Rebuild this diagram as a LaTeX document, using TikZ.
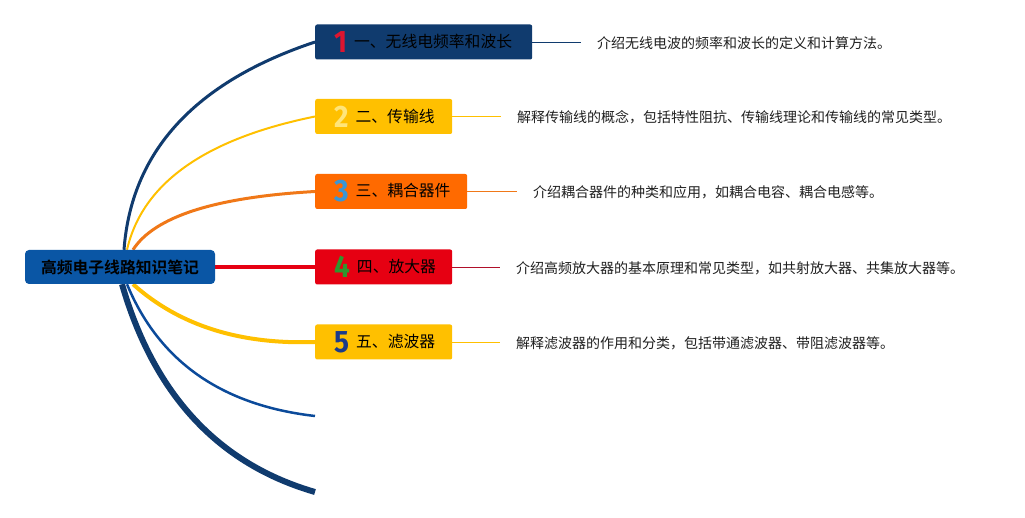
\documentclass[tikz,border=0pt]{standalone}
\usepackage{fontspec}
\usepackage{graphicx}
\setmainfont{Noto Sans CJK SC}[BoldFont={Noto Sans CJK SC Bold}]
\newfontfamily\digitfont{Fira Sans}
\usetikzlibrary{calc,backgrounds}
\definecolor{navy}{HTML}{103B6E}
\definecolor{rootblue}{HTML}{0A56A5}
\definecolor{gold}{HTML}{FFC000}
\definecolor{orng}{HTML}{FF6A00}
\definecolor{orngline}{HTML}{F07818}
\definecolor{redbox}{HTML}{E60012}
\definecolor{darkred}{HTML}{B0102A}
\definecolor{midblue}{HTML}{0B4A9A}
\definecolor{dgred}{HTML}{DD1530}
\definecolor{dgyellow}{HTML}{FFE57A}
\definecolor{dgblue}{HTML}{3A96D5}
\definecolor{dggreen}{HTML}{2E962E}
\definecolor{dgnavy}{HTML}{1B3B8A}
\newcommand\bignum[2]{\raisebox{-5pt}{\digitfont\bfseries\fontsize{31}{31}\selectfont\color{#1}\scalebox{0.9}[1]{#2}}}
\newcommand\boxtext[4]{\makebox[#1][l]{\hspace*{19pt}\bignum{#2}{#3}\hspace{7pt}#4}}
\tikzset{
  topic/.style={rounded corners=2pt, minimum height=35pt, inner ysep=0pt, inner xsep=0pt,
    anchor=west, font=\fontsize{15.8}{18}\selectfont, text=black},
  desc/.style={anchor=west, inner sep=0pt, font=\fontsize{14}{16}\selectfont, text=black!88},
  link/.style={line width=0.8pt, shorten >=16pt},
}
\begin{document}
\begin{tikzpicture}[x=1pt,y=-1pt]
\useasboundingbox (0,0) rectangle (1025,518);
% root
\node[fill=rootblue, rounded corners=4pt, minimum width=190pt, minimum height=34pt,
  inner sep=0pt, font=\fontsize{15.8}{18}\selectfont\bfseries, text=black] (root) at (120,267) {高频电子线路知识笔记};
% topics
\node[topic, fill=navy] (n1) at (315,42) {\boxtext{217pt}{dgred}{1}{一、无线电频率和波长}};
\node[topic, fill=gold] (n2) at (315,116.5) {\boxtext{137pt}{dgyellow}{2}{二、传输线}};
\node[topic, fill=orng] (n3) at (315,191.5) {\boxtext{152pt}{dgblue}{3}{三、耦合器件}};
\node[topic, fill=redbox] (n4) at (315,267) {\boxtext{137pt}{dggreen}{4}{四、放大器}};
\node[topic, fill=gold] (n5) at (315,342) {\boxtext{137pt}{dgnavy}{5}{五、滤波器}};
% descriptions
\node[desc] (d1) at (597,43) {介绍无线电波的频率和波长的定义和计算方法。};
\node[desc] (d2) at (517,117) {解释传输线的概念，包括特性阻抗、传输线理论和传输线的常见类型。};
\node[desc] (d3) at (533,192) {介绍耦合器件的种类和应用，如耦合电容、耦合电感等。};
\node[desc] (d4) at (516,268) {介绍高频放大器的基本原理和常见类型，如共射放大器、共集放大器等。};
\node[desc] (d5) at (516,343) {解释滤波器的作用和分类，包括带通滤波器、带阻滤波器等。};
\draw[link, navy] (n1.east) -- (n1.east -| d1.west);
\draw[link, gold] (n2.east) -- (n2.east -| d2.west);
\draw[link, orngline] (n3.east) -- (n3.east -| d3.west);
\draw[link, darkred] (n4.east) -- (n4.east -| d4.west);
\draw[link, gold] (n5.east) -- (n5.east -| d5.west);
% branch coordinates
\coordinate (s1) at ($(root.north)+(4,0)$);
\coordinate (s2) at ($(root.north)+(7,0)$);
\coordinate (s3) at ($(root.north)+(13,0)$);
\coordinate (s5) at ($(root.south)+(13,0)$);
\coordinate (s6) at ($(root.south)+(7,0)$);
\coordinate (s7) at ($(root.south)+(2,0)$);
\coordinate (c1) at (135,102);
\coordinate (c2) at (150,150);
\coordinate (c3) at (165,200);
\coordinate (c5) at (202,346);
\coordinate (c6) at (175,400);
\coordinate (c7) at (170,450);
\coordinate (e6) at (315,416);
\coordinate (e7) at (315,492);
\begin{pgfonlayer}{background}
\draw[navy, line width=3pt] (s1) .. controls ($(s1)!2/3!(c1)$) and ($(n1.west)!2/3!(c1)$) .. (n1.west);
\draw[gold, line width=2pt] (s2) .. controls ($(s2)!2/3!(c2)$) and ($(n2.west)!2/3!(c2)$) .. (n2.west);
\draw[orngline, line width=3pt] (s3) .. controls ($(s3)!2/3!(c3)$) and ($(n3.west)!2/3!(c3)$) .. (n3.west);
\draw[redbox, line width=4pt] (root.east) -- (n4.west);
\draw[gold, line width=4pt] (s5) .. controls ($(s5)!2/3!(c5)$) and ($(n5.west)!2/3!(c5)$) .. (n5.west);
\draw[midblue, line width=2.5pt] (s6) .. controls ($(s6)!2/3!(c6)$) and ($(e6)!2/3!(c6)$) .. (e6);
\draw[navy, line width=6pt] (s7) .. controls ($(s7)!2/3!(c7)$) and ($(e7)!2/3!(c7)$) .. (e7);
\end{pgfonlayer}
\end{tikzpicture}
\end{document}
